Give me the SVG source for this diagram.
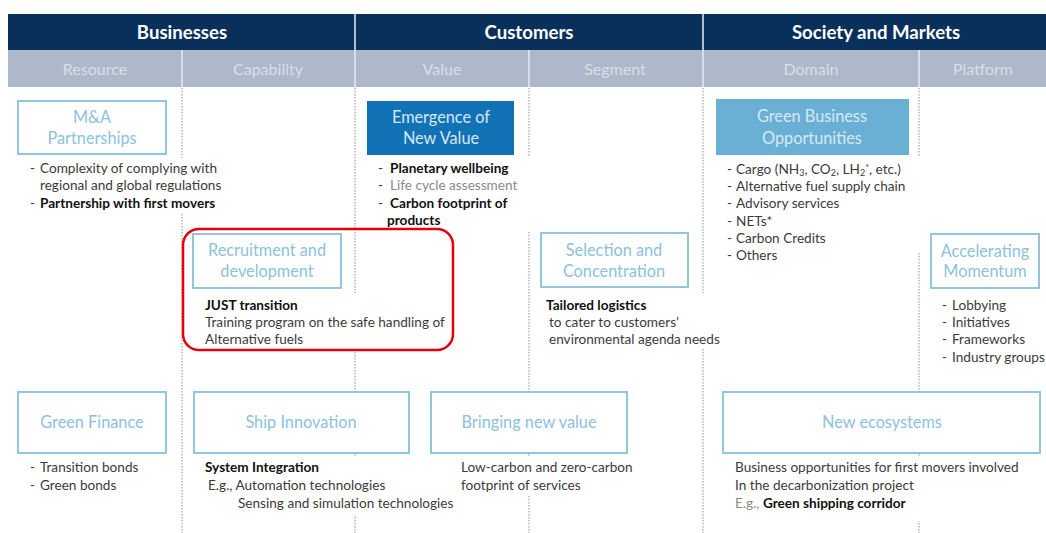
<svg xmlns="http://www.w3.org/2000/svg" width="1046" height="533" viewBox="0 0 1046 533">
<style>
  text { font-family: Lato, "Open Sans", "Liberation Sans", sans-serif; }
  .hdr { fill: #ffffff; font-size: 18.6px; font-weight: bold; text-anchor: middle; }
  .sub { fill: #d9dee6; font-size: 16px; text-anchor: middle; }
  .box { fill: #ffffff; stroke: #92c6df; stroke-width: 2; }
  .bt { fill: #8cc2dc; font-size: 16.3px; text-anchor: middle; }
  .bw { fill: #d6e8f3; font-size: 16.3px; text-anchor: middle; }
  .t { fill: #3b3b3b; font-size: 13.6px; }
  .b { fill: #111111; font-size: 13.6px; font-weight: bold; }
  .g { fill: #8a8a8a; }
  .dot { stroke: #a9a9a9; stroke-width: 1.3; stroke-dasharray: 1.5 1.5; fill: none; }
  .bg { fill: #ffffff; }
</style>

<rect width="1046" height="533" fill="#ffffff"/>

<!-- header -->
<g id="header">
  <rect x="8" y="14" width="1038" height="36" fill="#08305a"/>
  <rect x="8" y="50" width="1038" height="37" fill="#adb9ca"/>
  <g stroke="#e8ecf1" stroke-width="1.5">
    <line x1="355" y1="14" x2="355" y2="87"/>
    <line x1="703" y1="14" x2="703" y2="87"/>
    <line x1="182" y1="50" x2="182" y2="87"/>
    <line x1="529" y1="50" x2="529" y2="87"/>
    <line x1="919" y1="50" x2="919" y2="87"/>
  </g>
  <text class="hdr" x="182" y="38.5">Businesses</text>
  <text class="hdr" x="529" y="38.5">Customers</text>
  <text class="hdr" x="876" y="38.5">Society and Markets</text>
  <text class="sub" x="95" y="75">Resource</text>
  <text class="sub" x="268" y="75">Capability</text>
  <text class="sub" x="442" y="75">Value</text>
  <text class="sub" x="615" y="75">Segment</text>
  <text class="sub" x="811" y="75">Domain</text>
  <text class="sub" x="983" y="75">Platform</text>
</g>

<!-- dotted column separators -->
<g id="connectors">
  <line class="dot" x1="182" y1="88" x2="182" y2="533"/>
  <line class="dot" x1="355" y1="88" x2="355" y2="533"/>
  <line class="dot" x1="529" y1="88" x2="529" y2="533"/>
  <line class="dot" x1="703" y1="88" x2="703" y2="533"/>
  <line class="dot" x1="919" y1="88" x2="919" y2="533"/>
</g>

<!-- top row -->
<g id="ma">
  <rect class="box" x="18" y="101" width="148" height="53"/>
  <text class="bt" x="92" y="123">M&amp;A</text>
  <text class="bt" x="92" y="144">Partnerships</text>
  <rect class="bg" x="26" y="158" width="200" height="56"/>
  <text class="t" x="30" y="173">-</text>
  <text class="t" x="40" y="173">Complexity of complying with</text>
  <text class="t" x="40" y="190">regional and global regulations</text>
  <text class="t" x="30" y="208">-</text>
  <text class="b" x="40" y="208">Partnership with first movers</text>
</g>

<g id="emergence">
  <rect x="367" y="101" width="147" height="54" fill="#1272b6"/>
  <text class="bw" x="441" y="123">Emergence of</text>
  <text class="bw" x="441" y="144">New Value</text>
  <rect class="bg" x="372" y="157" width="164" height="75"/>
  <text class="t" x="378" y="173">-</text>
  <text class="b" x="390" y="173">Planetary wellbeing</text>
  <text class="t" x="378" y="190">-</text>
  <text class="t g" x="390" y="190">Life cycle assessment</text>
  <text class="t" x="378" y="208">-</text>
  <text class="b" x="390" y="208">Carbon footprint of</text>
  <text class="b" x="387" y="225">products</text>
</g>

<g id="green-business">
  <rect x="716" y="99" width="193" height="56" fill="#6ab0d4"/>
  <text class="bw" x="812" y="122">Green Business</text>
  <text class="bw" x="812" y="144">Opportunities</text>
  <rect class="bg" x="720" y="157" width="205" height="95"/>
  <text class="t" x="727" y="174">-</text>
  <text class="t" x="736" y="174">Cargo (NH<tspan font-size="9" dy="2">3</tspan><tspan dy="-2">, CO</tspan><tspan font-size="9" dy="2">2</tspan><tspan dy="-2">, LH</tspan><tspan font-size="9" dy="2">2</tspan><tspan font-size="9" dy="-5">*</tspan><tspan dy="3">, etc.)</tspan></text>
  <text class="t" x="727" y="191">-</text>
  <text class="t" x="736" y="191">Alternative fuel supply chain</text>
  <text class="t" x="727" y="208">-</text>
  <text class="t" x="736" y="208">Advisory services</text>
  <text class="t" x="727" y="226">-</text>
  <text class="t" x="736" y="226">NETs*</text>
  <text class="t" x="727" y="243">-</text>
  <text class="t" x="736" y="243">Carbon Credits</text>
  <text class="t" x="727" y="260">-</text>
  <text class="t" x="736" y="260">Others</text>
</g>

<!-- middle row -->
<g id="recruitment">
  <rect class="box" x="193" y="234" width="148" height="54"/>
  <text class="bt" x="267" y="256">Recruitment and</text>
  <text class="bt" x="267" y="277">development</text>
  <rect class="bg" x="200" y="293" width="252" height="56"/>
  <text class="b" x="205" y="310">JUST transition</text>
  <text class="t" x="205" y="327">Training program on the safe handling of</text>
  <text class="t" x="205" y="344">Alternative fuels</text>
  <rect x="183" y="229" width="270" height="121" rx="16" fill="none" stroke="#e50009" stroke-width="2.5"/>
</g>

<g id="selection">
  <rect class="box" x="541" y="233" width="147" height="54"/>
  <text class="bt" x="614" y="256">Selection and</text>
  <text class="bt" x="614" y="277">Concentration</text>
  <rect class="bg" x="543" y="293" width="182" height="56"/>
  <text class="b" x="546" y="310">Tailored logistics</text>
  <text class="t" x="549" y="327">to cater to customers’</text>
  <text class="t" x="549" y="344">environmental agenda needs</text>
</g>

<g id="accelerating">
  <rect class="box" x="931" y="234" width="108" height="54"/>
  <text class="bt" x="985" y="257">Accelerating</text>
  <text class="bt" x="985" y="277">Momentum</text>
  <text class="t" x="942" y="310">-</text>
  <text class="t" x="952" y="310">Lobbying</text>
  <text class="t" x="942" y="327">-</text>
  <text class="t" x="952" y="327">Initiatives</text>
  <text class="t" x="942" y="344">-</text>
  <text class="t" x="952" y="344">Frameworks</text>
  <text class="t" x="942" y="362">-</text>
  <text class="t" x="952" y="362">Industry groups</text>
</g>

<!-- bottom row -->
<g id="green-finance">
  <rect class="box" x="18" y="392" width="148" height="61"/>
  <text class="bt" x="92" y="428">Green Finance</text>
  <text class="t" x="30" y="472">-</text>
  <text class="t" x="40" y="472">Transition bonds</text>
  <text class="t" x="30" y="490">-</text>
  <text class="t" x="40" y="490">Green bonds</text>
</g>

<g id="ship-innovation">
  <rect class="box" x="194" y="392" width="215" height="61"/>
  <text class="bt" x="301" y="428">Ship Innovation</text>
  <rect class="bg" x="200" y="457" width="256" height="58"/>
  <text class="b" x="205" y="472">System Integration</text>
  <text class="t" x="208" y="490">E.g., Automation technologies</text>
  <text class="t" x="238" y="508">Sensing and simulation technologies</text>
</g>

<g id="bringing-value">
  <rect class="box" x="431" y="392" width="196" height="61"/>
  <text class="bt" x="529" y="428">Bringing new value</text>
  <rect class="bg" x="457" y="457" width="172" height="38"/>
  <text class="t" x="461" y="472">Low-carbon and zero-carbon</text>
  <text class="t" x="461" y="490">footprint of services</text>
</g>

<g id="new-ecosystems">
  <rect class="box" x="723" y="392" width="317" height="61"/>
  <text class="bt" x="882" y="428">New ecosystems</text>
  <rect class="bg" x="730" y="457" width="290" height="64"/>
  <text class="t" x="735" y="472">Business opportunities for first movers involved</text>
  <text class="t" x="735" y="490">In the decarbonization project</text>
  <text class="t" x="735" y="508"><tspan class="g">E.g., </tspan><tspan font-weight="bold" fill="#111111">Green shipping corridor</tspan></text>
</g>
</svg>
